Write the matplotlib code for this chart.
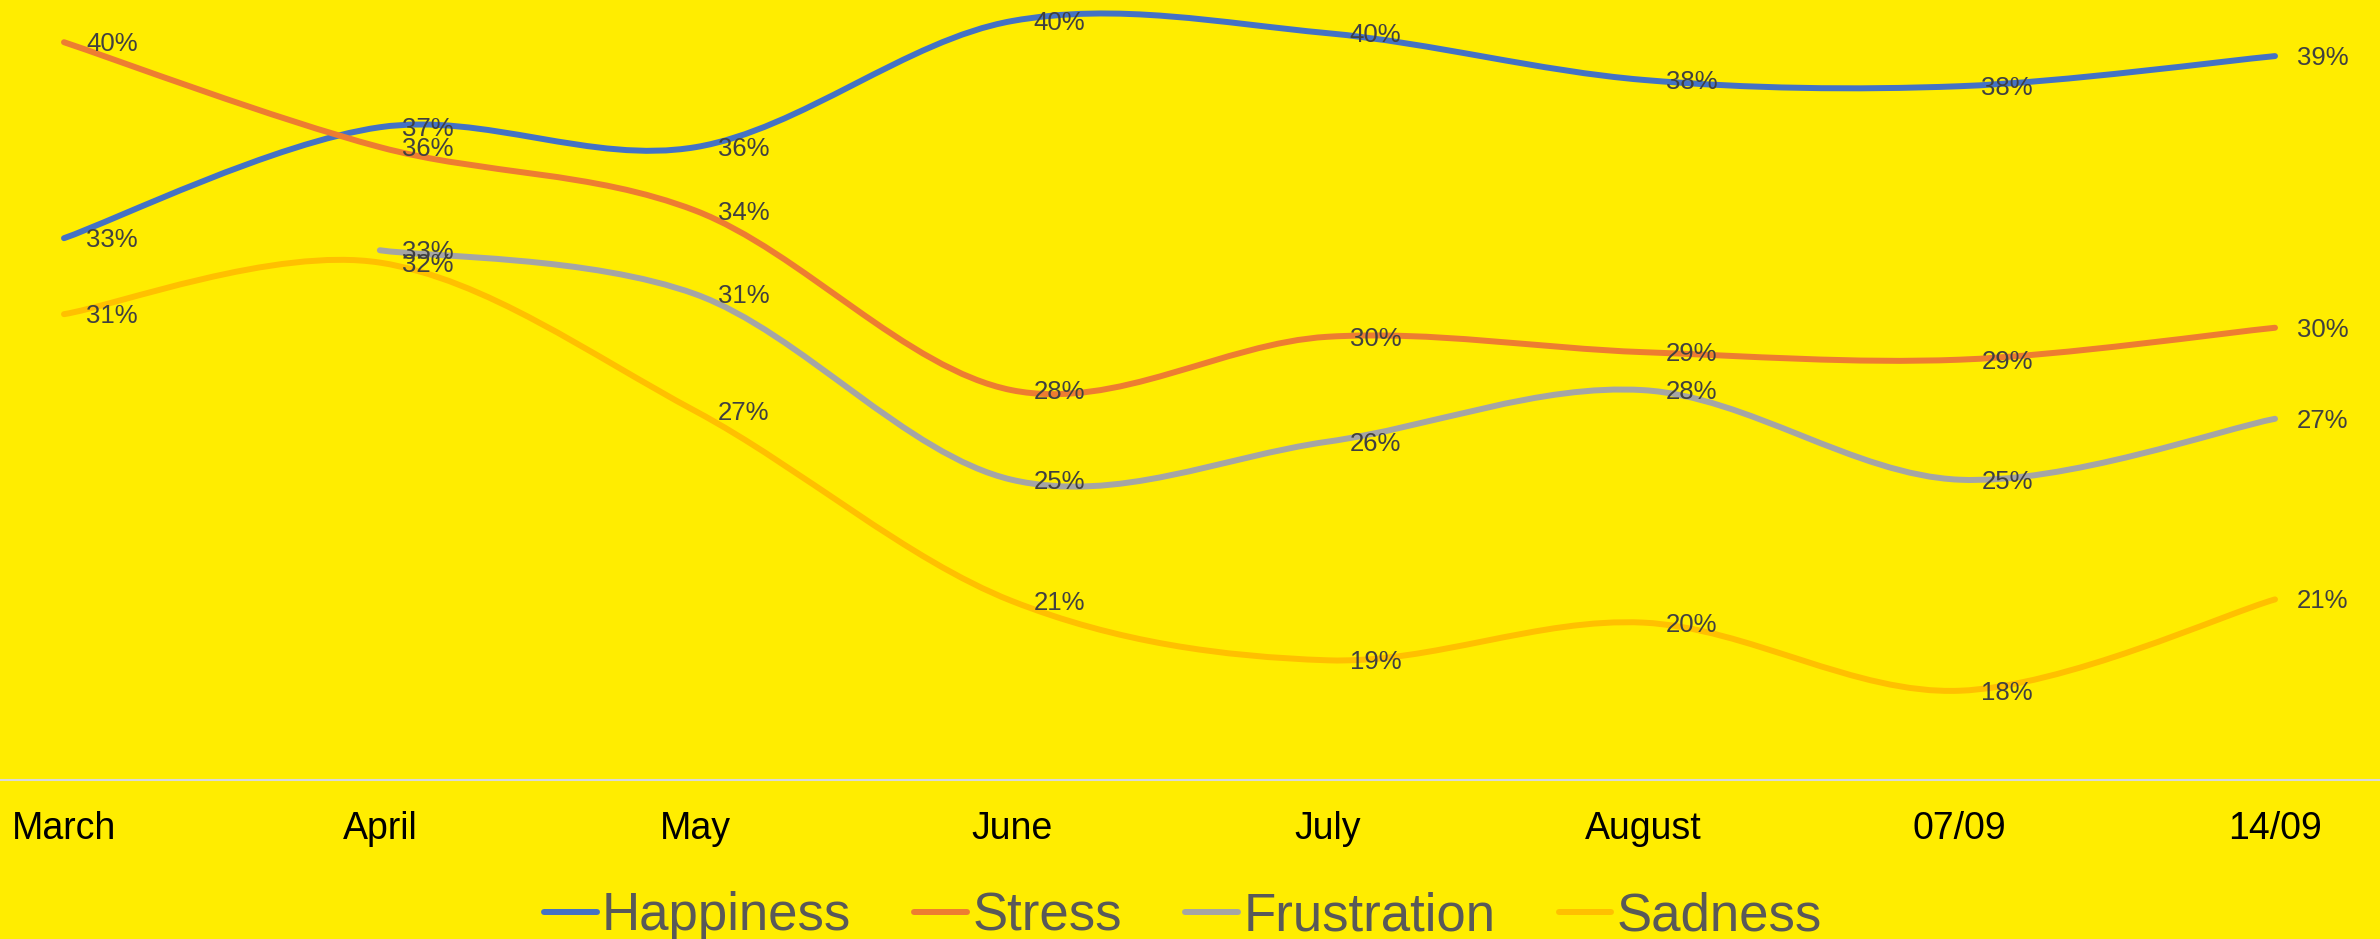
import matplotlib.pyplot as plt
from matplotlib.path import Path
from matplotlib.patches import PathPatch
from matplotlib.lines import Line2D

plt.rcParams['font.family'] = ['Liberation Sans', 'DejaVu Sans']

months = ['March', 'April', 'May', 'June', 'July', 'August', '07/09', '14/09']
happiness = [33.2, 36.88, 36.22, 40.4, 40.0, 38.45, 38.24, 39.24]
stress = [39.7, 36.22, 34.11, 28.16, 29.93, 29.42, 29.17, 30.23]
frustration = [None, 32.8, 31.34, 25.19, 26.45, 28.16, 25.19, 27.21]
sadness = [30.68, 32.39, 27.46, 21.17, 19.2, 20.45, 18.19, 21.22]

names = ['Happiness', 'Stress', 'Frustration', 'Sadness']
colors = ['#4472C4', '#ED7D31', '#A5A5A5', '#FFC000']
bg = '#FFED00'

fig = plt.figure(figsize=(23.8, 9.39), dpi=100, facecolor=bg)
ax = fig.add_axes([0, 1 - 780 / 939, 1, 780 / 939], facecolor=bg)


def smooth_path(xs, ys):
    # Excel-like smoothing: Catmull-Rom segments as cubic Bezier curves
    pts = list(zip(xs, ys))
    verts = [pts[0]]
    codes = [Path.MOVETO]
    n = len(pts)
    for i in range(n - 1):
        p0 = pts[i - 1] if i > 0 else pts[i]
        p1 = pts[i]
        p2 = pts[i + 1]
        p3 = pts[i + 2] if i + 2 < n else pts[i + 1]
        c1 = (p1[0] + (p2[0] - p0[0]) / 6, p1[1] + (p2[1] - p0[1]) / 6)
        c2 = (p2[0] - (p3[0] - p1[0]) / 6, p2[1] - (p3[1] - p1[1]) / 6)
        verts += [c1, c2, p2]
        codes += [Path.CURVE4] * 3
    return Path(verts, codes)


handles = []
for name, vals, col in zip(names, [happiness, stress, frustration, sadness], colors):
    xs = [i for i, v in enumerate(vals) if v is not None]
    ys = [v for v in vals if v is not None]
    patch = PathPatch(smooth_path(xs, ys), fill=False, edgecolor=col, lw=4.3,
                      capstyle='round', joinstyle='round', zorder=3)
    ax.add_patch(patch)
    for x, y in zip(xs, ys):
        ax.annotate('%d%%' % round(y), (x, y), xytext=(16, -1.5), textcoords='offset points',
                    ha='left', va='center', fontsize=18.5, color='#404040', zorder=4)
    handles.append(Line2D([], [], color=col, lw=4.3, solid_capstyle='round'))

ax.set_xlim(-64 / 315.86, 7 + 105 / 315.86)
ax.set_ylim(15.23, 41.1)
ax.set_xticks(range(len(months)))
ax.set_xticklabels(months, fontsize=27, color='black')
ax.set_yticks([])
ax.tick_params(axis='x', length=0, pad=22)
for s in ['top', 'left', 'right']:
    ax.spines[s].set_visible(False)
ax.spines['bottom'].set_color('#D9D9D9')
ax.spines['bottom'].set_linewidth(1.5)

fig.legend(handles, names, loc='center', bbox_to_anchor=(0.497, 0.024), ncol=4,
           fontsize=38, frameon=False, handlelength=1.0, handletextpad=0.1,
           columnspacing=1.2, labelcolor='#595959')

fig.savefig('out.png', dpi=100, facecolor=bg)
